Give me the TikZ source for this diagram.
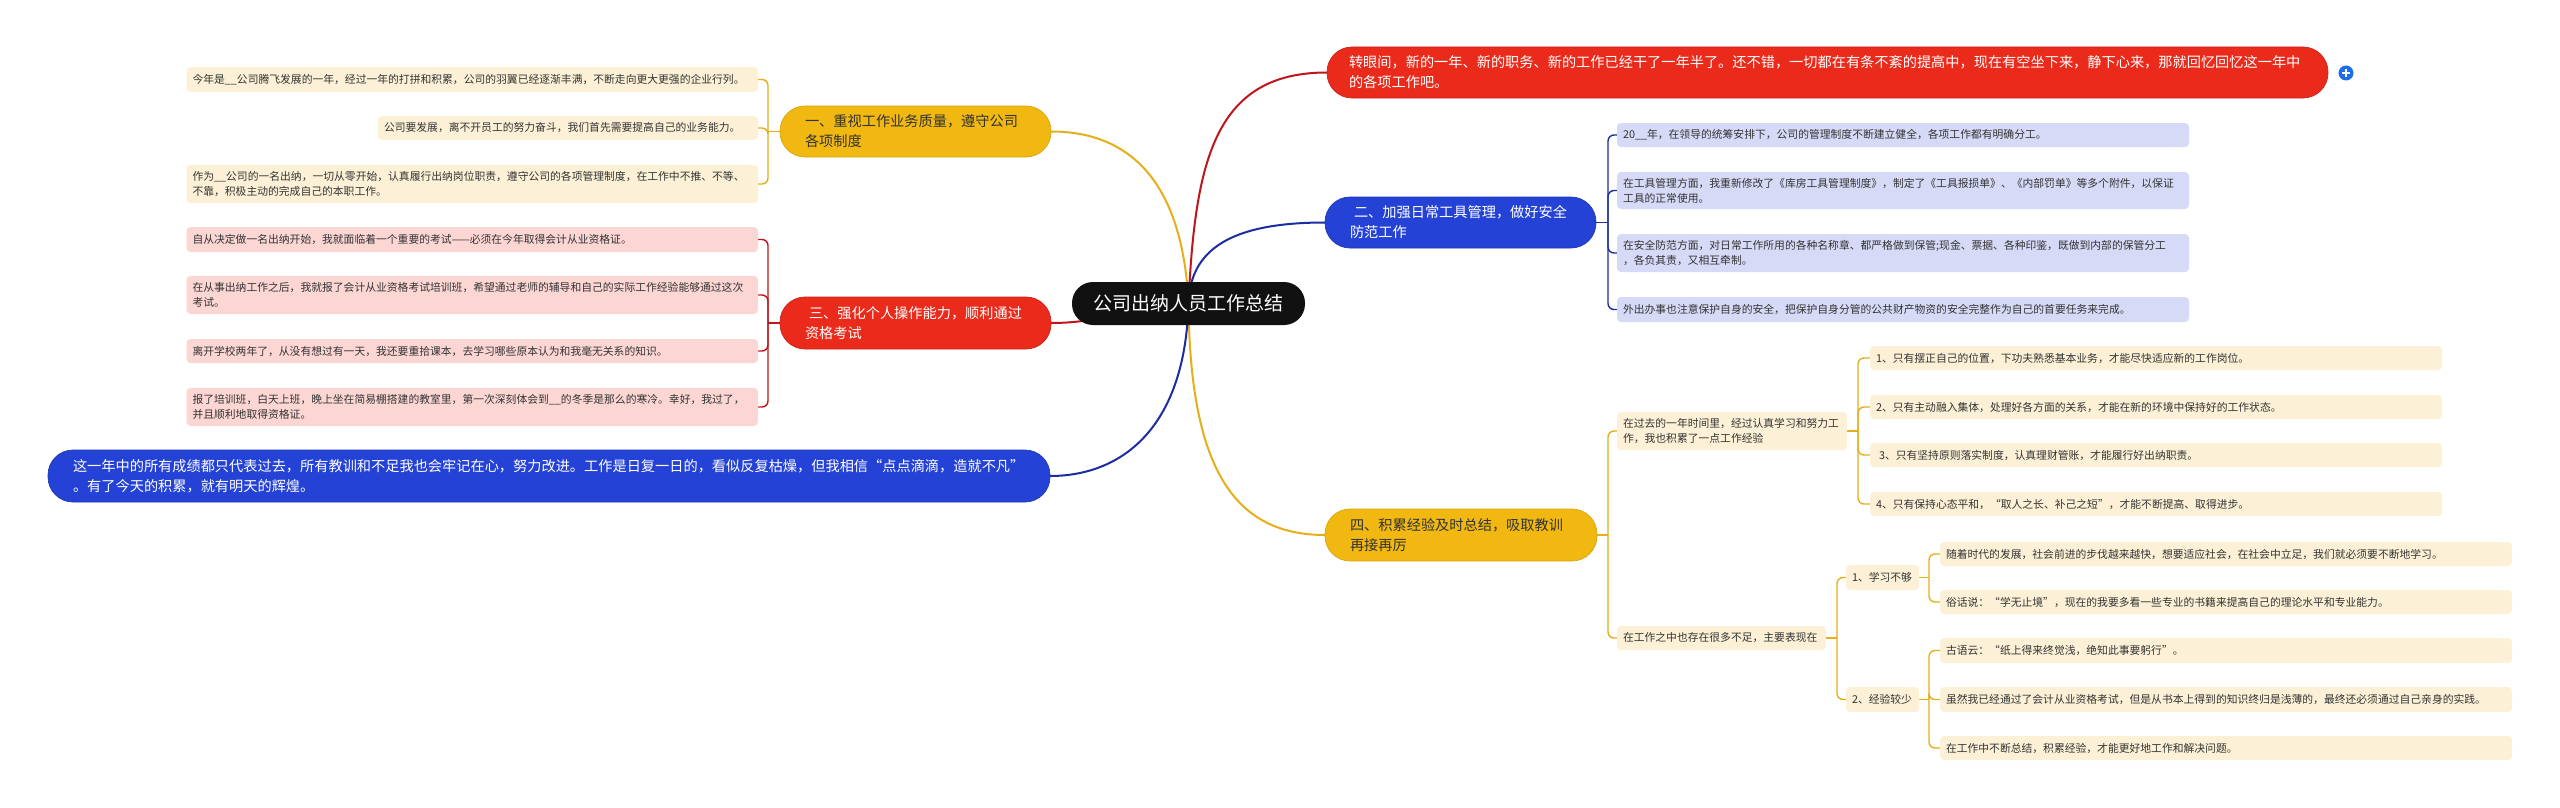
\documentclass[tikz,border=0pt]{standalone}
\usepackage{fontspec}
\setmainfont{Noto Sans CJK SC}
\usetikzlibrary{backgrounds}
\definecolor{rootc}{RGB}{17,17,17}
\definecolor{redc}{RGB}{234,43,28}
\definecolor{bluec}{RGB}{37,66,214}
\definecolor{yelc}{RGB}{240,184,16}
\definecolor{redl}{RGB}{251,214,211}
\definecolor{bluel}{RGB}{214,218,247}
\definecolor{yell}{RGB}{252,241,214}
\definecolor{redln}{RGB}{190,22,28}
\definecolor{blueln}{RGB}{28,45,160}
\definecolor{yelln}{RGB}{230,175,25}
\definecolor{txt}{RGB}{51,51,51}
\definecolor{plusc}{RGB}{28,110,232}
\begin{document}
\begin{tikzpicture}[x=1pt,y=-1pt,
  every node/.style={inner sep=0pt, outer sep=0pt},
  leaf/.style={anchor=north west, rounded corners=4pt, inner xsep=6pt, inner ysep=0pt,
    align=left, text=txt, font=\fontsize{10.8}{15}\selectfont},
  lw/.style={minimum width=571.5pt, text width=559.5pt},
  rw/.style={minimum width=572pt, text width=560pt},
  yleaf/.style={leaf, fill=yell},
  rleaf/.style={leaf, fill=redl},
  bleaf/.style={leaf, fill=bluel},
  branch/.style={anchor=north west, rounded corners=25pt, inner xsep=25pt, inner ysep=0pt,
    align=left, font=\fontsize{14.2}{20}\selectfont, minimum height=51pt, line width=0.7pt},
  rootnode/.style={anchor=north west, rounded corners=21pt, fill=rootc, text=white,
    minimum width=233pt, minimum height=43pt, font=\fontsize{19}{22}\selectfont},
  main/.style={line width=2pt},
  ylink/.style={draw=yelln, line width=1.4pt, rounded corners=6pt},
  rlink/.style={draw=redln, line width=1.4pt, rounded corners=6pt},
  blink/.style={draw=blueln, line width=1.4pt, rounded corners=6pt}
]
\useasboundingbox (0,0) rectangle (2560,808);

% root
\node[rootnode] (root) at (1072,282) {公司出纳人员工作总结};

% left branches
\node[branch, fill=yelc, draw=yelc!90!black, text=txt, minimum width=271pt, text width=221pt] (y1) at (780,106)
  {一、重视工作业务质量，遵守公司\\各项制度};
\node[branch, fill=redc, draw=redc!85!black, text=white, minimum width=271pt, text width=221pt, minimum height=52pt] (r3) at (780,297)
  {\hspace*{4pt}三、强化个人操作能力，顺利通过\\资格考试};
\node[branch, fill=bluec, draw=bluec!85!black, text=white, minimum width=1002pt, text width=952pt, minimum height=52pt] (bb) at (48,450)
  {这一年中的所有成绩都只代表过去，所有教训和不足我也会牢记在心，努力改进。工作是日复一日的，看似反复枯燥，但我相信“点点滴滴，造就不凡”\\。有了今天的积累，就有明天的辉煌。};

% right branches
\node[branch, fill=redc, draw=redc!85!black, text=white, minimum width=1001pt, inner xsep=22pt, text width=957pt] (r1) at (1327,47)
  {转眼间，新的一年、新的职务、新的工作已经干了一年半了。还不错，一切都在有条不紊的提高中，现在有空坐下来，静下心来，那就回忆回忆这一年中\\的各项工作吧。};
\node[branch, fill=bluec, draw=bluec!85!black, text=white, minimum width=271pt, text width=221pt] (b2) at (1325,197)
  {\hspace*{4pt}二、加强日常工具管理，做好安全\\防范工作};
\node[branch, fill=yelc, draw=yelc!90!black, text=txt, minimum width=272pt, text width=222pt, minimum height=52pt] (y4) at (1325,509)
  {四、积累经验及时总结，吸取教训\\再接再厉};

% plus icon
\node[circle, fill=plusc, minimum size=15pt] (plus) at (2346,73) {};
\draw[white, line width=1.8pt] ([xshift=-4pt]plus.center) -- ([xshift=4pt]plus.center);
\draw[white, line width=1.8pt] ([yshift=-4pt]plus.center) -- ([yshift=4pt]plus.center);

% left leaves (yellow)
\node[yleaf, lw, minimum height=25pt] (l11) at (186.5,67)
  {今年是\_\_公司腾飞发展的一年，经过一年的打拼和积累，公司的羽翼已经逐渐丰满，不断走向更大更强的企业行列。};
\node[yleaf, minimum width=380pt, text width=368pt, minimum height=24pt] (l12) at (378,116)
  {公司要发展，离不开员工的努力奋斗，我们首先需要提高自己的业务能力。};
\node[yleaf, lw, minimum height=38pt] (l13) at (186.5,165)
  {作为\_\_公司的一名出纳，一切从零开始，认真履行出纳岗位职责，遵守公司的各项管理制度，在工作中不推、不等、\\不靠，积极主动的完成自己的本职工作。};

% left leaves (red)
\node[rleaf, lw, minimum height=25pt] (l31) at (186.5,227)
  {自从决定做一名出纳开始，我就面临着一个重要的考试——必须在今年取得会计从业资格证。};
\node[rleaf, lw, minimum height=38pt] (l32) at (186.5,276)
  {在从事出纳工作之后，我就报了会计从业资格考试培训班，希望通过老师的辅导和自己的实际工作经验能够通过这次\\考试。};
\node[rleaf, lw, minimum height=24pt] (l33) at (186.5,339)
  {离开学校两年了，从没有想过有一天，我还要重拾课本，去学习哪些原本认为和我毫无关系的知识。};
\node[rleaf, lw, minimum height=38pt] (l34) at (186.5,388)
  {报了培训班，白天上班，晚上坐在简易棚搭建的教室里，第一次深刻体会到\_\_的冬季是那么的寒冷。幸好，我过了，\\并且顺利地取得资格证。};

% right leaves (blue)
\node[bleaf, rw, minimum height=24pt] (l21) at (1617,123)
  {20\_\_年，在领导的统筹安排下，公司的管理制度不断建立健全，各项工作都有明确分工。};
\node[bleaf, rw, minimum height=37pt] (l22) at (1617,172)
  {在工具管理方面，我重新修改了《库房工具管理制度》，制定了《工具报损单》、《内部罚单》等多个附件，以保证\\工具的正常使用。};
\node[bleaf, rw, minimum height=38pt] (l23) at (1617,234)
  {在安全防范方面，对日常工作所用的各种名称章、都严格做到保管;现金、票据、各种印鉴，既做到内部的保管分工\\，各负其责，又相互牵制。};
\node[bleaf, rw, minimum height=25pt] (l24) at (1617,297)
  {外出办事也注意保护自身的安全，把保护自身分管的公共财产物资的安全完整作为自己的首要任务来完成。};

% right yellow subtree
\node[yleaf, minimum width=230pt, text width=218pt, minimum height=38pt] (s1) at (1617,412)
  {在过去的一年时间里，经过认真学习和努力工\\作，我也积累了一点工作经验};
\node[yleaf, rw, minimum height=24pt] (l411) at (1870,346)
  {1、只有摆正自己的位置，下功夫熟悉基本业务，才能尽快适应新的工作岗位。};
\node[yleaf, rw, minimum height=24pt] (l412) at (1870,395)
  {2、只有主动融入集体，处理好各方面的关系，才能在新的环境中保持好的工作状态。};
\node[yleaf, rw, minimum height=24pt] (l413) at (1870,443)
  {\hspace*{3pt}3、只有坚持原则落实制度，认真理财管账，才能履行好出纳职责。};
\node[yleaf, rw, minimum height=24pt] (l414) at (1870,492)
  {4、只有保持心态平和，“取人之长、补己之短”，才能不断提高、取得进步。};

\node[yleaf, minimum width=209pt, text width=197pt, minimum height=24pt] (s2) at (1617,626)
  {在工作之中也存在很多不足，主要表现在};
\node[yleaf, minimum width=73pt, text width=61pt, minimum height=25pt] (s21) at (1846,565)
  {1、学习不够};
\node[yleaf, minimum width=73pt, text width=61pt, minimum height=25pt] (s22) at (1846,687)
  {2、经验较少};
\node[yleaf, rw, minimum height=24pt] (l2a) at (1940,542)
  {随着时代的发展，社会前进的步伐越来越快，想要适应社会，在社会中立足，我们就必须要不断地学习。};
\node[yleaf, rw, minimum height=24pt] (l2b) at (1940,590)
  {俗话说：“学无止境”，现在的我要多看一些专业的书籍来提高自己的理论水平和专业能力。};
\node[yleaf, rw, minimum height=25pt] (l2c) at (1940,638)
  {古语云：“纸上得来终觉浅，绝知此事要躬行”。};
\node[yleaf, rw, minimum height=25pt] (l2d) at (1940,687)
  {虽然我已经通过了会计从业资格考试，但是从书本上得到的知识终归是浅薄的，最终还必须通过自己亲身的实践。};
\node[yleaf, rw, minimum height=24pt] (l2e) at (1940,736)
  {在工作中不断总结，积累经验，才能更好地工作和解决问题。};

\begin{pgfonlayer}{background}
\fill[white] (0,0) rectangle (2560,808);
% main connectors
\draw[main, redln] (root.center) .. controls (1195,160) and (1215,72.5) .. (r1.west);
\draw[main, yelln] (root.center) .. controls (1182,170) and (1120,131.5) .. (y1.east);
\draw[main, blueln] (root.center) .. controls (1190,250) and (1230,222.5) .. (b2.west);
\draw[main, yelln] (root.center) .. controls (1190,470) and (1235,535) .. (y4.west);
\draw[main, blueln] (root.center) .. controls (1185,430) and (1120,476) .. (bb.east);
\draw[main, redln] (root.center) .. controls (1120,310) and (1100,323) .. (r3.east);

% brackets
\draw[ylink] (y1.west) -- ++(-12,0) coordinate (j1);
\foreach \n in {l11,l12,l13} \draw[ylink] (j1) |- (\n.east);
\draw[rlink] (r3.west) -- ++(-12,0) coordinate (j3);
\foreach \n in {l31,l32,l33,l34} \draw[rlink] (j3) |- (\n.east);
\draw[blink] (b2.east) -- ++(12,0) coordinate (j2);
\foreach \n in {l21,l22,l23,l24} \draw[blink] (j2) |- (\n.west);
\draw[ylink] (y4.east) -- ++(11,0) coordinate (j4);
\foreach \n in {s1,s2} \draw[ylink] (j4) |- (\n.west);
\draw[ylink] (s1.east) -- ++(11,0) coordinate (j41);
\foreach \n in {l411,l412,l413,l414} \draw[ylink] (j41) |- (\n.west);
\draw[ylink] (s2.east) -- ++(11,0) coordinate (j42);
\foreach \n in {s21,s22} \draw[ylink] (j42) |- (\n.west);
\draw[ylink] (s21.east) -- ++(10,0) coordinate (j421);
\foreach \n in {l2a,l2b} \draw[ylink] (j421) |- (\n.west);
\draw[ylink] (s22.east) -- ++(10,0) coordinate (j422);
\foreach \n in {l2c,l2d,l2e} \draw[ylink] (j422) |- (\n.west);
\end{pgfonlayer}
\end{tikzpicture}
\end{document}
